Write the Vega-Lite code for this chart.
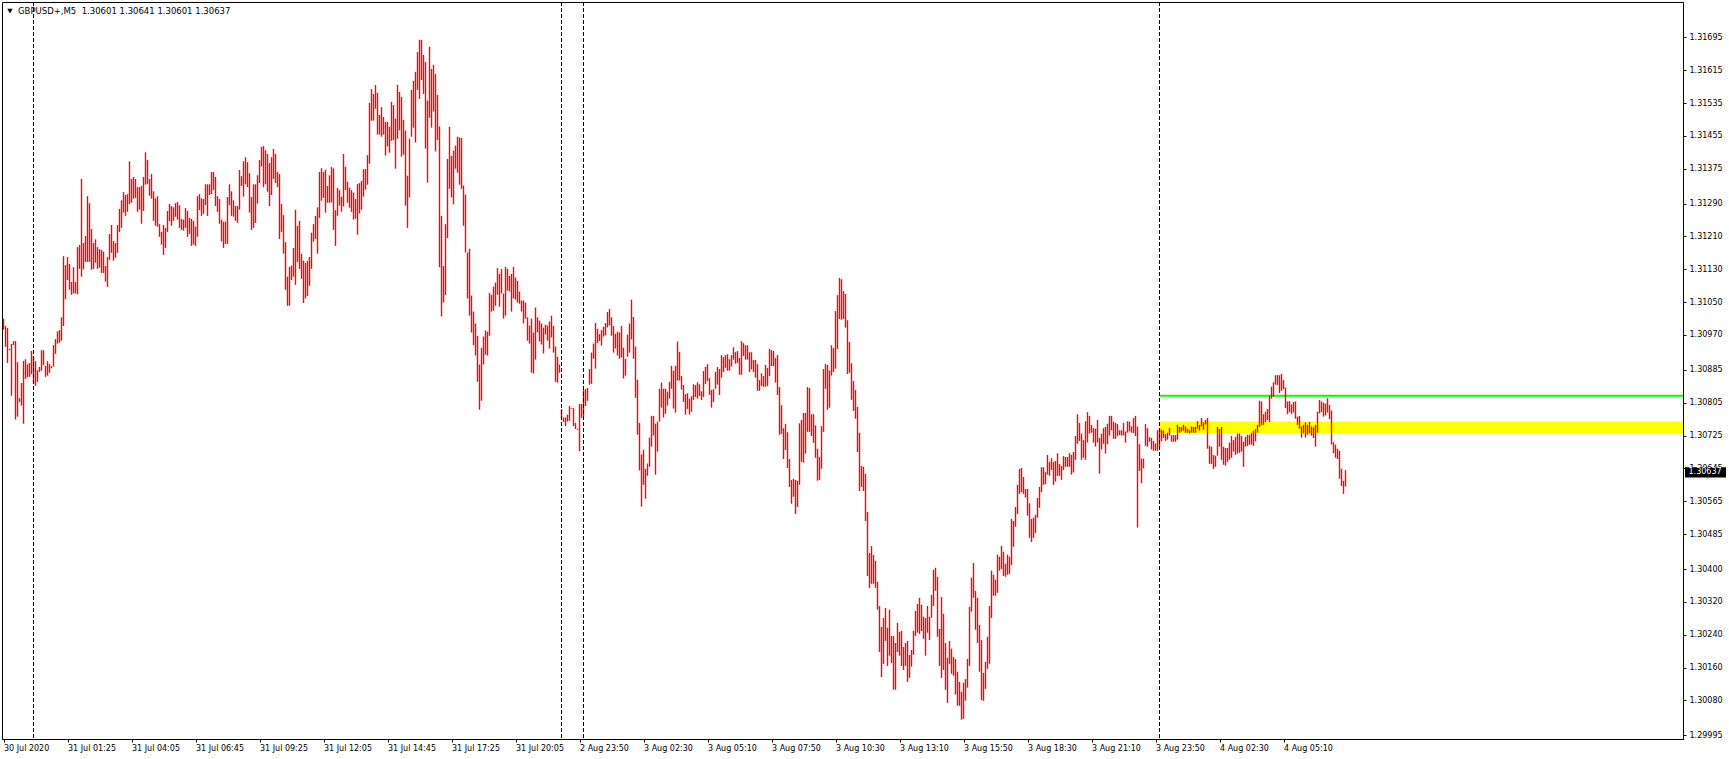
{
"$schema": "https://vega.github.io/schema/vega-lite/v6.json",
"width": 1681, "height": 737,
"autosize": {"type": "none"},
"padding": {"left": 2, "top": 2, "right": 46, "bottom": 20},
"background": "#ffffff",
"view": {"stroke": "#000000", "strokeWidth": 1},
"config": {"font": "DejaVu Sans", "axis": {"title": null, "grid": false, "labelOverlap": false, "labelSeparation": 0}},
"datasets": {
"bars": [
{"i":0,"h":1.31010,"l":1.30983},{"i":1,"h":1.30992,"l":1.30941},{"i":2,"h":1.30987,"l":1.30902},{"i":3,"h":1.30936,"l":1.30933},{"i":4,"h":1.30948,"l":1.30822},{"i":5,"h":1.30955,"l":1.30945},{"i":6,"h":1.30955,"l":1.30764},{"i":7,"h":1.30904,"l":1.30771},{"i":8,"h":1.30816,"l":1.30807},{"i":9,"h":1.30853,"l":1.30798},
{"i":10,"h":1.30907,"l":1.30754},{"i":11,"h":1.30911,"l":1.30863},{"i":12,"h":1.30899,"l":1.30867},{"i":13,"h":1.30902,"l":1.30868},{"i":14,"h":1.30931,"l":1.30875},{"i":15,"h":1.30917,"l":1.30852},{"i":16,"h":1.30906,"l":1.30846},{"i":17,"h":1.30884,"l":1.30856},{"i":18,"h":1.30892,"l":1.30880},{"i":19,"h":1.30933,"l":1.30883},
{"i":20,"h":1.30933,"l":1.30897},{"i":21,"h":1.30895,"l":1.30868},{"i":22,"h":1.30906,"l":1.30871},{"i":23,"h":1.30899,"l":1.30878},{"i":24,"h":1.30894,"l":1.30889},{"i":25,"h":1.30945,"l":1.30893},{"i":26,"h":1.30960,"l":1.30924},{"i":27,"h":1.30979,"l":1.30949},{"i":28,"h":1.30982,"l":1.30951},{"i":29,"h":1.31013,"l":1.30956},
{"i":30,"h":1.31162,"l":1.30992},{"i":31,"h":1.31140,"l":1.31057},{"i":32,"h":1.31160,"l":1.31104},{"i":33,"h":1.31143,"l":1.31080},{"i":34,"h":1.31099,"l":1.31068},{"i":35,"h":1.31135,"l":1.31071},{"i":36,"h":1.31099,"l":1.31071},{"i":37,"h":1.31184,"l":1.31069},{"i":38,"h":1.31189,"l":1.31131},{"i":39,"h":1.31350,"l":1.31112},
{"i":40,"h":1.31194,"l":1.31130},{"i":41,"h":1.31211,"l":1.31148},{"i":42,"h":1.31308,"l":1.31148},{"i":43,"h":1.31291,"l":1.31148},{"i":44,"h":1.31228,"l":1.31129},{"i":45,"h":1.31194,"l":1.31131},{"i":46,"h":1.31203,"l":1.31146},{"i":47,"h":1.31184,"l":1.31131},{"i":48,"h":1.31179,"l":1.31134},{"i":49,"h":1.31177,"l":1.31121},
{"i":50,"h":1.31173,"l":1.31121},{"i":51,"h":1.31138,"l":1.31100},{"i":52,"h":1.31160,"l":1.31087},{"i":53,"h":1.31216,"l":1.31153},{"i":54,"h":1.31238,"l":1.31170},{"i":55,"h":1.31199,"l":1.31151},{"i":56,"h":1.31194,"l":1.31158},{"i":57,"h":1.31238,"l":1.31170},{"i":58,"h":1.31277,"l":1.31221},{"i":59,"h":1.31298,"l":1.31231},
{"i":60,"h":1.31318,"l":1.31268},{"i":61,"h":1.31311,"l":1.31260},{"i":62,"h":1.31313,"l":1.31270},{"i":63,"h":1.31393,"l":1.31289},{"i":64,"h":1.31350,"l":1.31292},{"i":65,"h":1.31355,"l":1.31302},{"i":66,"h":1.31350,"l":1.31304},{"i":67,"h":1.31330,"l":1.31270},{"i":68,"h":1.31330,"l":1.31275},{"i":69,"h":1.31333,"l":1.31241},
{"i":70,"h":1.31355,"l":1.31272},{"i":71,"h":1.31415,"l":1.31336},{"i":72,"h":1.31396,"l":1.31338},{"i":73,"h":1.31350,"l":1.31309},{"i":74,"h":1.31362,"l":1.31302},{"i":75,"h":1.31320,"l":1.31248},{"i":76,"h":1.31303,"l":1.31236},{"i":77,"h":1.31308,"l":1.31234},{"i":78,"h":1.31240,"l":1.31209},{"i":79,"h":1.31221,"l":1.31190},
{"i":80,"h":1.31238,"l":1.31165},{"i":81,"h":1.31231,"l":1.31182},{"i":82,"h":1.31272,"l":1.31221},{"i":83,"h":1.31289,"l":1.31247},{"i":84,"h":1.31284,"l":1.31236},{"i":85,"h":1.31281,"l":1.31248},{"i":86,"h":1.31291,"l":1.31258},{"i":87,"h":1.31294,"l":1.31251},{"i":88,"h":1.31286,"l":1.31231},{"i":89,"h":1.31253,"l":1.31226},
{"i":90,"h":1.31251,"l":1.31224},{"i":91,"h":1.31279,"l":1.31231},{"i":92,"h":1.31272,"l":1.31209},{"i":93,"h":1.31255,"l":1.31216},{"i":94,"h":1.31253,"l":1.31187},{"i":95,"h":1.31248,"l":1.31190},{"i":96,"h":1.31234,"l":1.31187},{"i":97,"h":1.31308,"l":1.31209},{"i":98,"h":1.31313,"l":1.31274},{"i":99,"h":1.31303,"l":1.31260},
{"i":100,"h":1.31301,"l":1.31265},{"i":101,"h":1.31337,"l":1.31286},{"i":102,"h":1.31337,"l":1.31260},{"i":103,"h":1.31337,"l":1.31311},{"i":104,"h":1.31367,"l":1.31313},{"i":105,"h":1.31367,"l":1.31323},{"i":106,"h":1.31355,"l":1.31284},{"i":107,"h":1.31308,"l":1.31270},{"i":108,"h":1.31301,"l":1.31241},{"i":109,"h":1.31251,"l":1.31198},
{"i":110,"h":1.31246,"l":1.31182},{"i":111,"h":1.31246,"l":1.31192},{"i":112,"h":1.31306,"l":1.31192},{"i":113,"h":1.31337,"l":1.31286},{"i":114,"h":1.31320,"l":1.31260},{"i":115,"h":1.31298,"l":1.31258},{"i":116,"h":1.31284,"l":1.31248},{"i":117,"h":1.31284,"l":1.31243},{"i":118,"h":1.31372,"l":1.31275},{"i":119,"h":1.31357,"l":1.31333},
{"i":120,"h":1.31393,"l":1.31307},{"i":121,"h":1.31403,"l":1.31337},{"i":122,"h":1.31391,"l":1.31330},{"i":123,"h":1.31364,"l":1.31268},{"i":124,"h":1.31306,"l":1.31226},{"i":125,"h":1.31337,"l":1.31231},{"i":126,"h":1.31337,"l":1.31243},{"i":127,"h":1.31359,"l":1.31290},{"i":128,"h":1.31396,"l":1.31340},{"i":129,"h":1.31428,"l":1.31380},
{"i":130,"h":1.31430,"l":1.31330},{"i":131,"h":1.31420,"l":1.31337},{"i":132,"h":1.31411,"l":1.31319},{"i":133,"h":1.31389,"l":1.31284},{"i":134,"h":1.31403,"l":1.31311},{"i":135,"h":1.31423,"l":1.31350},{"i":136,"h":1.31411,"l":1.31340},{"i":137,"h":1.31367,"l":1.31330},{"i":138,"h":1.31362,"l":1.31204},{"i":139,"h":1.31289,"l":1.31221},
{"i":140,"h":1.31262,"l":1.31168},{"i":141,"h":1.31196,"l":1.31080},{"i":142,"h":1.31112,"l":1.31041},{"i":143,"h":1.31136,"l":1.31041},{"i":144,"h":1.31139,"l":1.31104},{"i":145,"h":1.31182,"l":1.31112},{"i":146,"h":1.31275,"l":1.31092},{"i":147,"h":1.31236,"l":1.31148},{"i":148,"h":1.31248,"l":1.31131},{"i":149,"h":1.31168,"l":1.31107},
{"i":150,"h":1.31151,"l":1.31048},{"i":151,"h":1.31146,"l":1.31059},{"i":152,"h":1.31151,"l":1.31065},{"i":153,"h":1.31160,"l":1.31090},{"i":154,"h":1.31219,"l":1.31131},{"i":155,"h":1.31240,"l":1.31197},{"i":156,"h":1.31260,"l":1.31204},{"i":157,"h":1.31281,"l":1.31168},{"i":158,"h":1.31367,"l":1.31255},{"i":159,"h":1.31376,"l":1.31297},
{"i":160,"h":1.31367,"l":1.31304},{"i":161,"h":1.31372,"l":1.31268},{"i":162,"h":1.31333,"l":1.31292},{"i":163,"h":1.31359,"l":1.31292},{"i":164,"h":1.31379,"l":1.31293},{"i":165,"h":1.31376,"l":1.31226},{"i":166,"h":1.31274,"l":1.31187},{"i":167,"h":1.31328,"l":1.31260},{"i":168,"h":1.31323,"l":1.31285},{"i":169,"h":1.31307,"l":1.31270},
{"i":170,"h":1.31411,"l":1.31283},{"i":171,"h":1.31380,"l":1.31323},{"i":172,"h":1.31343,"l":1.31292},{"i":173,"h":1.31329,"l":1.31280},{"i":174,"h":1.31323,"l":1.31270},{"i":175,"h":1.31317,"l":1.31251},{"i":176,"h":1.31301,"l":1.31253},{"i":177,"h":1.31338,"l":1.31214},{"i":178,"h":1.31340,"l":1.31266},{"i":179,"h":1.31345,"l":1.31275},
{"i":180,"h":1.31374,"l":1.31307},{"i":181,"h":1.31374,"l":1.31324},{"i":182,"h":1.31408,"l":1.31336},{"i":183,"h":1.31535,"l":1.31387},{"i":184,"h":1.31569,"l":1.31492},{"i":185,"h":1.31557,"l":1.31492},{"i":186,"h":1.31579,"l":1.31521},{"i":187,"h":1.31560,"l":1.31458},{"i":188,"h":1.31506,"l":1.31458},{"i":189,"h":1.31525,"l":1.31453},
{"i":190,"h":1.31501,"l":1.31458},{"i":191,"h":1.31489,"l":1.31407},{"i":192,"h":1.31489,"l":1.31429},{"i":193,"h":1.31477,"l":1.31414},{"i":194,"h":1.31538,"l":1.31443},{"i":195,"h":1.31530,"l":1.31445},{"i":196,"h":1.31497,"l":1.31375},{"i":197,"h":1.31579,"l":1.31448},{"i":198,"h":1.31562,"l":1.31468},{"i":199,"h":1.31550,"l":1.31404},
{"i":200,"h":1.31494,"l":1.31409},{"i":201,"h":1.31468,"l":1.31285},{"i":202,"h":1.31358,"l":1.31231},{"i":203,"h":1.31448,"l":1.31305},{"i":204,"h":1.31567,"l":1.31453},{"i":205,"h":1.31589,"l":1.31475},{"i":206,"h":1.31611,"l":1.31439},{"i":207,"h":1.31659,"l":1.31567},{"i":208,"h":1.31689,"l":1.31545},{"i":209,"h":1.31689,"l":1.31591},
{"i":210,"h":1.31652,"l":1.31557},{"i":211,"h":1.31635,"l":1.31424},{"i":212,"h":1.31541,"l":1.31341},{"i":213,"h":1.31672,"l":1.31499},{"i":214,"h":1.31618,"l":1.31475},{"i":215,"h":1.31628,"l":1.31514},{"i":216,"h":1.31606,"l":1.31417},{"i":217,"h":1.31555,"l":1.31445},{"i":218,"h":1.31478,"l":1.31135},{"i":219,"h":1.31260,"l":1.31015},
{"i":220,"h":1.31138,"l":1.31049},{"i":221,"h":1.31240,"l":1.31067},{"i":222,"h":1.31399,"l":1.31206},{"i":223,"h":1.31477,"l":1.31326},{"i":224,"h":1.31406,"l":1.31305},{"i":225,"h":1.31419,"l":1.31288},{"i":226,"h":1.31431,"l":1.31375},{"i":227,"h":1.31453,"l":1.31365},{"i":228,"h":1.31451,"l":1.31336},{"i":229,"h":1.31450,"l":1.31326},
{"i":230,"h":1.31334,"l":1.31236},{"i":231,"h":1.31312,"l":1.31171},{"i":232,"h":1.31171,"l":1.31059},{"i":233,"h":1.31180,"l":1.31017},{"i":234,"h":1.31066,"l":1.30976},{"i":235,"h":1.31027,"l":1.30945},{"i":236,"h":1.30998,"l":1.30920},{"i":237,"h":1.30968,"l":1.30856},{"i":238,"h":1.30898,"l":1.30788},{"i":239,"h":1.30939,"l":1.30810},
{"i":240,"h":1.30966,"l":1.30898},{"i":241,"h":1.30981,"l":1.30922},{"i":242,"h":1.30978,"l":1.30920},{"i":243,"h":1.31072,"l":1.30968},{"i":244,"h":1.31068,"l":1.31027},{"i":245,"h":1.31088,"l":1.31029},{"i":246,"h":1.31098,"l":1.31041},{"i":247,"h":1.31133,"l":1.31068},{"i":248,"h":1.31119,"l":1.31039},{"i":249,"h":1.31131,"l":1.31071},
{"i":250,"h":1.31071,"l":1.31010},{"i":251,"h":1.31136,"l":1.31017},{"i":252,"h":1.31131,"l":1.31078},{"i":253,"h":1.31114,"l":1.31076},{"i":254,"h":1.31119,"l":1.31027},{"i":255,"h":1.31136,"l":1.31059},{"i":256,"h":1.31110,"l":1.31056},{"i":257,"h":1.31102,"l":1.31049},{"i":258,"h":1.31076,"l":1.31046},{"i":259,"h":1.31054,"l":1.31027},
{"i":260,"h":1.31054,"l":1.30998},{"i":261,"h":1.31049,"l":1.31010},{"i":262,"h":1.31013,"l":1.30956},{"i":263,"h":1.30993,"l":1.30949},{"i":264,"h":1.31010,"l":1.30878},{"i":265,"h":1.30976,"l":1.30876},{"i":266,"h":1.31037,"l":1.30910},{"i":267,"h":1.31013,"l":1.30976},{"i":268,"h":1.31005,"l":1.30954},{"i":269,"h":1.30998,"l":1.30947},
{"i":270,"h":1.30988,"l":1.30925},{"i":271,"h":1.30995,"l":1.30971},{"i":272,"h":1.30993,"l":1.30956},{"i":273,"h":1.31003,"l":1.30937},{"i":274,"h":1.31017,"l":1.30964},{"i":275,"h":1.30992,"l":1.30927},{"i":276,"h":1.30942,"l":1.30856},{"i":277,"h":1.30917,"l":1.30854},{"i":278,"h":1.30898,"l":1.30878},{"i":279,"h":1.30789,"l":1.30765},
{"i":280,"h":1.30769,"l":1.30758},{"i":281,"h":1.30769,"l":1.30748},{"i":282,"h":1.30776,"l":1.30759},{"i":283,"h":1.30797,"l":1.30761},{"i":284,"h":1.30792,"l":1.30790},{"i":285,"h":1.30792,"l":1.30748},{"i":286,"h":1.30756,"l":1.30741},{"i":287,"h":1.30742,"l":1.30739},{"i":288,"h":1.30802,"l":1.30687},{"i":289,"h":1.30802,"l":1.30768},
{"i":290,"h":1.30836,"l":1.30771},{"i":291,"h":1.30838,"l":1.30797},{"i":292,"h":1.30841,"l":1.30810},{"i":293,"h":1.30887,"l":1.30849},{"i":294,"h":1.30927,"l":1.30851},{"i":295,"h":1.30949,"l":1.30912},{"i":296,"h":1.30999,"l":1.30888},{"i":297,"h":1.30985,"l":1.30950},{"i":298,"h":1.30972,"l":1.30955},{"i":299,"h":1.30982,"l":1.30944},
{"i":300,"h":1.30990,"l":1.30966},{"i":301,"h":1.30999,"l":1.30969},{"i":302,"h":1.31026,"l":1.30988},{"i":303,"h":1.31033,"l":1.30993},{"i":304,"h":1.31013,"l":1.30968},{"i":305,"h":1.30992,"l":1.30927},{"i":306,"h":1.30973,"l":1.30937},{"i":307,"h":1.30978,"l":1.30920},{"i":308,"h":1.30976,"l":1.30912},{"i":309,"h":1.30992,"l":1.30915},
{"i":310,"h":1.30939,"l":1.30864},{"i":311,"h":1.30912,"l":1.30871},{"i":312,"h":1.30971,"l":1.30917},{"i":313,"h":1.30998,"l":1.30927},{"i":314,"h":1.31056,"l":1.30959},{"i":315,"h":1.31014,"l":1.30912},{"i":316,"h":1.30942,"l":1.30817},{"i":317,"h":1.30861,"l":1.30727},{"i":318,"h":1.30756,"l":1.30640},{"i":319,"h":1.30679,"l":1.30552},
{"i":320,"h":1.30690,"l":1.30605},{"i":321,"h":1.30644,"l":1.30571},{"i":322,"h":1.30657,"l":1.30627},{"i":323,"h":1.30720,"l":1.30649},{"i":324,"h":1.30773,"l":1.30698},{"i":325,"h":1.30773,"l":1.30725},{"i":326,"h":1.30754,"l":1.30630},{"i":327,"h":1.30759,"l":1.30686},{"i":328,"h":1.30839,"l":1.30759},{"i":329,"h":1.30854,"l":1.30793},
{"i":330,"h":1.30839,"l":1.30769},{"i":331,"h":1.30839,"l":1.30778},{"i":332,"h":1.30832,"l":1.30798},{"i":333,"h":1.30856,"l":1.30815},{"i":334,"h":1.30895,"l":1.30839},{"i":335,"h":1.30883,"l":1.30791},{"i":336,"h":1.30895,"l":1.30781},{"i":337,"h":1.30954,"l":1.30859},{"i":338,"h":1.30929,"l":1.30859},{"i":339,"h":1.30870,"l":1.30837},
{"i":340,"h":1.30848,"l":1.30807},{"i":341,"h":1.30826,"l":1.30776},{"i":342,"h":1.30828,"l":1.30790},{"i":343,"h":1.30815,"l":1.30776},{"i":344,"h":1.30821,"l":1.30783},{"i":345,"h":1.30850,"l":1.30812},{"i":346,"h":1.30848,"l":1.30819},{"i":347,"h":1.30855,"l":1.30815},{"i":348,"h":1.30850,"l":1.30821},{"i":349,"h":1.30833,"l":1.30812},
{"i":350,"h":1.30882,"l":1.30819},{"i":351,"h":1.30892,"l":1.30851},{"i":352,"h":1.30899,"l":1.30858},{"i":353,"h":1.30865,"l":1.30824},{"i":354,"h":1.30836,"l":1.30793},{"i":355,"h":1.30838,"l":1.30807},{"i":356,"h":1.30880,"l":1.30839},{"i":357,"h":1.30892,"l":1.30849},{"i":358,"h":1.30887,"l":1.30824},{"i":359,"h":1.30921,"l":1.30866},
{"i":360,"h":1.30916,"l":1.30880},{"i":361,"h":1.30921,"l":1.30890},{"i":362,"h":1.30923,"l":1.30883},{"i":363,"h":1.30911,"l":1.30883},{"i":364,"h":1.30921,"l":1.30893},{"i":365,"h":1.30940,"l":1.30910},{"i":366,"h":1.30928,"l":1.30900},{"i":367,"h":1.30931,"l":1.30902},{"i":368,"h":1.30914,"l":1.30873},{"i":369,"h":1.30955,"l":1.30873},
{"i":370,"h":1.30950,"l":1.30919},{"i":371,"h":1.30945,"l":1.30910},{"i":372,"h":1.30945,"l":1.30910},{"i":373,"h":1.30928,"l":1.30880},{"i":374,"h":1.30928,"l":1.30886},{"i":375,"h":1.30909,"l":1.30880},{"i":376,"h":1.30909,"l":1.30866},{"i":377,"h":1.30899,"l":1.30834},{"i":378,"h":1.30860,"l":1.30834},{"i":379,"h":1.30877,"l":1.30846},
{"i":380,"h":1.30870,"l":1.30844},{"i":381,"h":1.30897,"l":1.30844},{"i":382,"h":1.30890,"l":1.30846},{"i":383,"h":1.30936,"l":1.30870},{"i":384,"h":1.30933,"l":1.30894},{"i":385,"h":1.30931,"l":1.30894},{"i":386,"h":1.30914,"l":1.30854},{"i":387,"h":1.30921,"l":1.30824},{"i":388,"h":1.30843,"l":1.30727},{"i":389,"h":1.30799,"l":1.30729},
{"i":390,"h":1.30743,"l":1.30668},{"i":391,"h":1.30753,"l":1.30690},{"i":392,"h":1.30733,"l":1.30646},{"i":393,"h":1.30668,"l":1.30600},{"i":394,"h":1.30617,"l":1.30559},{"i":395,"h":1.30620,"l":1.30576},{"i":396,"h":1.30617,"l":1.30534},{"i":397,"h":1.30615,"l":1.30551},{"i":398,"h":1.30755,"l":1.30605},{"i":399,"h":1.30763,"l":1.30661},
{"i":400,"h":1.30780,"l":1.30659},{"i":401,"h":1.30780,"l":1.30681},{"i":402,"h":1.30843,"l":1.30734},{"i":403,"h":1.30841,"l":1.30734},{"i":404,"h":1.30777,"l":1.30724},{"i":405,"h":1.30777,"l":1.30707},{"i":406,"h":1.30750,"l":1.30671},{"i":407,"h":1.30693,"l":1.30615},{"i":408,"h":1.30673,"l":1.30617},{"i":409,"h":1.30748,"l":1.30644},
{"i":410,"h":1.30887,"l":1.30734},{"i":411,"h":1.30899,"l":1.30839},{"i":412,"h":1.30897,"l":1.30788},{"i":413,"h":1.30884,"l":1.30793},{"i":414,"h":1.30945,"l":1.30871},{"i":415,"h":1.30938,"l":1.30880},{"i":416,"h":1.31028,"l":1.30888},{"i":417,"h":1.31067,"l":1.30936},{"i":418,"h":1.31109,"l":1.31009},{"i":419,"h":1.31106,"l":1.31007},
{"i":420,"h":1.31077,"l":1.31009},{"i":421,"h":1.31070,"l":1.30988},{"i":422,"h":1.31006,"l":1.30875},{"i":423,"h":1.30953,"l":1.30878},{"i":424,"h":1.30901,"l":1.30812},{"i":425,"h":1.30858,"l":1.30785},{"i":426,"h":1.30836,"l":1.30766},{"i":427,"h":1.30795,"l":1.30685},{"i":428,"h":1.30732,"l":1.30590},{"i":429,"h":1.30651,"l":1.30600},
{"i":430,"h":1.30649,"l":1.30590},{"i":431,"h":1.30632,"l":1.30517},{"i":432,"h":1.30539,"l":1.30383},{"i":433,"h":1.30439,"l":1.30354},{"i":434,"h":1.30456,"l":1.30364},{"i":435,"h":1.30434,"l":1.30364},{"i":436,"h":1.30420,"l":1.30354},{"i":437,"h":1.30369,"l":1.30301},{"i":438,"h":1.30310,"l":1.30198},{"i":439,"h":1.30259,"l":1.30137},
{"i":440,"h":1.30281,"l":1.30169},{"i":441,"h":1.30305,"l":1.30225},{"i":442,"h":1.30257,"l":1.30164},{"i":443,"h":1.30301,"l":1.30189},{"i":444,"h":1.30237,"l":1.30171},{"i":445,"h":1.30237,"l":1.30106},{"i":446,"h":1.30220,"l":1.30106},{"i":447,"h":1.30269,"l":1.30198},{"i":448,"h":1.30247,"l":1.30189},{"i":449,"h":1.30249,"l":1.30164},
{"i":450,"h":1.30210,"l":1.30154},{"i":451,"h":1.30220,"l":1.30164},{"i":452,"h":1.30225,"l":1.30125},{"i":453,"h":1.30191,"l":1.30135},{"i":454,"h":1.30203,"l":1.30162},{"i":455,"h":1.30249,"l":1.30191},{"i":456,"h":1.30298,"l":1.30237},{"i":457,"h":1.30315,"l":1.30245},{"i":458,"h":1.30330,"l":1.30242},{"i":459,"h":1.30313,"l":1.30249},
{"i":460,"h":1.30284,"l":1.30230},{"i":461,"h":1.30281,"l":1.30189},{"i":462,"h":1.30310,"l":1.30245},{"i":463,"h":1.30284,"l":1.30227},{"i":464,"h":1.30337,"l":1.30281},{"i":465,"h":1.30398,"l":1.30310},{"i":466,"h":1.30403,"l":1.30347},{"i":467,"h":1.30381,"l":1.30235},{"i":468,"h":1.30254,"l":1.30164},{"i":469,"h":1.30332,"l":1.30135},
{"i":470,"h":1.30291,"l":1.30154},{"i":471,"h":1.30220,"l":1.30106},{"i":472,"h":1.30184,"l":1.30074},{"i":473,"h":1.30225,"l":1.30169},{"i":474,"h":1.30206,"l":1.30145},{"i":475,"h":1.30186,"l":1.30140},{"i":476,"h":1.30181,"l":1.30094},{"i":477,"h":1.30150,"l":1.30067},{"i":478,"h":1.30125,"l":1.30067},{"i":479,"h":1.30101,"l":1.30033},
{"i":480,"h":1.30123,"l":1.30035},{"i":481,"h":1.30132,"l":1.30079},{"i":482,"h":1.30181,"l":1.30111},{"i":483,"h":1.30308,"l":1.30164},{"i":484,"h":1.30379,"l":1.30296},{"i":485,"h":1.30415,"l":1.30330},{"i":486,"h":1.30347,"l":1.30252},{"i":487,"h":1.30330,"l":1.30220},{"i":488,"h":1.30264,"l":1.30150},{"i":489,"h":1.30227,"l":1.30081},
{"i":490,"h":1.30147,"l":1.30079},{"i":491,"h":1.30174,"l":1.30108},{"i":492,"h":1.30235,"l":1.30157},{"i":493,"h":1.30310,"l":1.30169},{"i":494,"h":1.30396,"l":1.30281},{"i":495,"h":1.30386,"l":1.30335},{"i":496,"h":1.30374,"l":1.30335},{"i":497,"h":1.30435,"l":1.30342},{"i":498,"h":1.30430,"l":1.30396},{"i":499,"h":1.30456,"l":1.30400},
{"i":500,"h":1.30442,"l":1.30383},{"i":501,"h":1.30413,"l":1.30381},{"i":502,"h":1.30435,"l":1.30386},{"i":503,"h":1.30430,"l":1.30388},{"i":504,"h":1.30522,"l":1.30410},{"i":505,"h":1.30517,"l":1.30454},{"i":506,"h":1.30551,"l":1.30503},{"i":507,"h":1.30605,"l":1.30534},{"i":508,"h":1.30644,"l":1.30583},{"i":509,"h":1.30646,"l":1.30587},
{"i":510,"h":1.30624,"l":1.30583},{"i":511,"h":1.30595,"l":1.30574},{"i":512,"h":1.30595,"l":1.30530},{"i":513,"h":1.30560,"l":1.30476},{"i":514,"h":1.30522,"l":1.30466},{"i":515,"h":1.30525,"l":1.30476},{"i":516,"h":1.30532,"l":1.30488},{"i":517,"h":1.30573,"l":1.30525},{"i":518,"h":1.30600,"l":1.30549},{"i":519,"h":1.30648,"l":1.30587},
{"i":520,"h":1.30648,"l":1.30605},{"i":521,"h":1.30636,"l":1.30607},{"i":522,"h":1.30678,"l":1.30630},{"i":523,"h":1.30661,"l":1.30627},{"i":524,"h":1.30670,"l":1.30641},{"i":525,"h":1.30661,"l":1.30605},{"i":526,"h":1.30663,"l":1.30613},{"i":527,"h":1.30682,"l":1.30627},{"i":528,"h":1.30656,"l":1.30627},{"i":529,"h":1.30651,"l":1.30617},
{"i":530,"h":1.30675,"l":1.30641},{"i":531,"h":1.30673,"l":1.30649},{"i":532,"h":1.30673,"l":1.30649},{"i":533,"h":1.30682,"l":1.30649},{"i":534,"h":1.30678,"l":1.30630},{"i":535,"h":1.30685,"l":1.30635},{"i":536,"h":1.30724,"l":1.30666},{"i":537,"h":1.30777,"l":1.30705},{"i":538,"h":1.30756,"l":1.30712},{"i":539,"h":1.30730,"l":1.30666},
{"i":540,"h":1.30714,"l":1.30671},{"i":541,"h":1.30760,"l":1.30666},{"i":542,"h":1.30782,"l":1.30708},{"i":543,"h":1.30773,"l":1.30730},{"i":544,"h":1.30751,"l":1.30732},{"i":545,"h":1.30743,"l":1.30708},{"i":546,"h":1.30742,"l":1.30698},{"i":547,"h":1.30763,"l":1.30708},{"i":548,"h":1.30719,"l":1.30632},{"i":549,"h":1.30730,"l":1.30691},
{"i":550,"h":1.30743,"l":1.30705},{"i":551,"h":1.30746,"l":1.30681},{"i":552,"h":1.30754,"l":1.30704},{"i":553,"h":1.30773,"l":1.30725},{"i":554,"h":1.30773,"l":1.30738},{"i":555,"h":1.30759,"l":1.30717},{"i":556,"h":1.30756,"l":1.30717},{"i":557,"h":1.30753,"l":1.30724},{"i":558,"h":1.30738,"l":1.30726},{"i":559,"h":1.30738,"l":1.30725},
{"i":560,"h":1.30756,"l":1.30725},{"i":561,"h":1.30735,"l":1.30708},{"i":562,"h":1.30760,"l":1.30732},{"i":563,"h":1.30759,"l":1.30735},{"i":564,"h":1.30748,"l":1.30732},{"i":565,"h":1.30768,"l":1.30731},{"i":566,"h":1.30773,"l":1.30724},{"i":567,"h":1.30747,"l":1.30501},{"i":568,"h":1.30704,"l":1.30639},{"i":569,"h":1.30669,"l":1.30609},
{"i":570,"h":1.30669,"l":1.30645},{"i":571,"h":1.30753,"l":1.30700},{"i":572,"h":1.30743,"l":1.30698},{"i":573,"h":1.30721,"l":1.30710},{"i":574,"h":1.30719,"l":1.30691},{"i":575,"h":1.30712,"l":1.30688},{"i":576,"h":1.30706,"l":1.30688},{"i":577,"h":1.30738,"l":1.30688},{"i":578,"h":1.30743,"l":1.30696},{"i":579,"h":1.30739,"l":1.30711},
{"i":580,"h":1.30737,"l":1.30719},{"i":581,"h":1.30729,"l":1.30712},{"i":582,"h":1.30732,"l":1.30715},{"i":583,"h":1.30743,"l":1.30725},{"i":584,"h":1.30726,"l":1.30710},{"i":585,"h":1.30726,"l":1.30710},{"i":586,"h":1.30726,"l":1.30710},{"i":587,"h":1.30751,"l":1.30715},{"i":588,"h":1.30746,"l":1.30732},{"i":589,"h":1.30746,"l":1.30735},
{"i":590,"h":1.30751,"l":1.30737},{"i":591,"h":1.30747,"l":1.30732},{"i":592,"h":1.30742,"l":1.30732},{"i":593,"h":1.30738,"l":1.30730},{"i":594,"h":1.30747,"l":1.30732},{"i":595,"h":1.30746,"l":1.30732},{"i":596,"h":1.30746,"l":1.30732},{"i":597,"h":1.30760,"l":1.30742},{"i":598,"h":1.30751,"l":1.30737},{"i":599,"h":1.30768,"l":1.30747},
{"i":600,"h":1.30757,"l":1.30739},{"i":601,"h":1.30763,"l":1.30752},{"i":602,"h":1.30768,"l":1.30693},{"i":603,"h":1.30700,"l":1.30656},{"i":604,"h":1.30698,"l":1.30656},{"i":605,"h":1.30678,"l":1.30644},{"i":606,"h":1.30676,"l":1.30649},{"i":607,"h":1.30746,"l":1.30676},{"i":608,"h":1.30741,"l":1.30698},{"i":609,"h":1.30746,"l":1.30666},
{"i":610,"h":1.30698,"l":1.30654},{"i":611,"h":1.30695,"l":1.30652},{"i":612,"h":1.30695,"l":1.30661},{"i":613,"h":1.30708,"l":1.30666},{"i":614,"h":1.30724,"l":1.30671},{"i":615,"h":1.30714,"l":1.30686},{"i":616,"h":1.30722,"l":1.30678},{"i":617,"h":1.30730,"l":1.30681},{"i":618,"h":1.30730,"l":1.30683},{"i":619,"h":1.30724,"l":1.30686},
{"i":620,"h":1.30710,"l":1.30649},{"i":621,"h":1.30722,"l":1.30698},{"i":622,"h":1.30727,"l":1.30700},{"i":623,"h":1.30727,"l":1.30703},{"i":624,"h":1.30732,"l":1.30703},{"i":625,"h":1.30737,"l":1.30700},{"i":626,"h":1.30741,"l":1.30711},{"i":627,"h":1.30751,"l":1.30732},{"i":628,"h":1.30810,"l":1.30746},{"i":629,"h":1.30808,"l":1.30750},
{"i":630,"h":1.30777,"l":1.30751},{"i":631,"h":1.30783,"l":1.30758},{"i":632,"h":1.30790,"l":1.30763},{"i":633,"h":1.30822,"l":1.30758},{"i":634,"h":1.30844,"l":1.30815},{"i":635,"h":1.30855,"l":1.30820},{"i":636,"h":1.30872,"l":1.30849},{"i":637,"h":1.30872,"l":1.30848},{"i":638,"h":1.30872,"l":1.30829},{"i":639,"h":1.30875,"l":1.30834},
{"i":640,"h":1.30860,"l":1.30838},{"i":641,"h":1.30842,"l":1.30792},{"i":642,"h":1.30808,"l":1.30777},{"i":643,"h":1.30809,"l":1.30782},{"i":644,"h":1.30801,"l":1.30778},{"i":645,"h":1.30807,"l":1.30781},{"i":646,"h":1.30808,"l":1.30766},{"i":647,"h":1.30771,"l":1.30751},{"i":648,"h":1.30773,"l":1.30742},{"i":649,"h":1.30747,"l":1.30720},
{"i":650,"h":1.30751,"l":1.30730},{"i":651,"h":1.30757,"l":1.30720},{"i":652,"h":1.30751,"l":1.30727},{"i":653,"h":1.30758,"l":1.30730},{"i":654,"h":1.30747,"l":1.30725},{"i":655,"h":1.30745,"l":1.30719},{"i":656,"h":1.30751,"l":1.30698},{"i":657,"h":1.30783,"l":1.30732},{"i":658,"h":1.30812,"l":1.30779},{"i":659,"h":1.30808,"l":1.30782},
{"i":660,"h":1.30805,"l":1.30771},{"i":661,"h":1.30803,"l":1.30774},{"i":662,"h":1.30816,"l":1.30781},{"i":663,"h":1.30800,"l":1.30765},{"i":664,"h":1.30786,"l":1.30703},{"i":665,"h":1.30709,"l":1.30682},{"i":666,"h":1.30703,"l":1.30671},{"i":667,"h":1.30693,"l":1.30668},{"i":668,"h":1.30688,"l":1.30620},{"i":669,"h":1.30644,"l":1.30602},
{"i":670,"h":1.30615,"l":1.30583},{"i":671,"h":1.30641,"l":1.30601}
]
},
"encoding": {
"x": {"field": "i", "type": "quantitative", "scale": {"domain": [-0.75, 839.75], "nice": false, "zero": false},
"axis": {"orient": "bottom", "values": [0,32,64,96,128,160,192,224,256,288,320,352,384,416,448,480,512,544,576,608,640],
"labelExpr": "['30 Jul 2020','31 Jul 01:25','31 Jul 04:05','31 Jul 06:45','31 Jul 09:25','31 Jul 12:05','31 Jul 14:45','31 Jul 17:25','31 Jul 20:05','2 Aug 23:50','3 Aug 02:30','3 Aug 05:10','3 Aug 07:50','3 Aug 10:30','3 Aug 13:10','3 Aug 15:50','3 Aug 18:30','3 Aug 21:10','3 Aug 23:50','4 Aug 02:30','4 Aug 05:10'][round(datum.value/32)]",
"grid": false, "domain": true, "domainColor": "#000000", "ticks": true, "tickColor": "#000000", "tickSize": 3,
"labelAlign": "left", "labelBaseline": "top", "labelPadding": 2, "labelFont": "DejaVu Sans", "labelFontSize": 8, "labelColor": "#000000",
"labelOverlap": false, "labelBound": false, "labelFlush": false, "title": null}},
"y": {"field": "h", "type": "quantitative", "scale": {"domain": [1.29986, 1.31781], "nice": false, "zero": false},
"axis": {"orient": "right", "values": [1.29995,1.30080,1.30160,1.30240,1.30320,1.30400,1.30485,1.30565,1.30645,1.30725,1.30805,1.30885,1.30970,1.31050,1.31130,1.31210,1.31290,1.31375,1.31455,1.31535,1.31615,1.31695],
"format": ".5f", "grid": false, "domain": true, "domainColor": "#000000", "ticks": true, "tickColor": "#000000", "tickSize": 3,
"labelPadding": 3, "labelAlign": "left", "labelBaseline": "middle", "labelFont": "DejaVu Sans", "labelFontSize": 8, "labelColor": "#000000",
"labelOverlap": false, "labelBound": false, "labelFlush": false, "title": null}}
},
"layer": [
{
"data": {"values": [{"i": 578, "i2": 839.75, "h": 1.30759, "l": 1.30731}]},
"mark": {"type": "rect", "color": "#ffff00"},
"encoding": {"x2": {"field": "i2"}, "y2": {"field": "l"}}
},
{
"data": {"values": [{"i": 578, "i2": 839.75, "h": 1.30822}]},
"mark": {"type": "rule", "color": "#00ff00", "strokeWidth": 2},
"encoding": {"x2": {"field": "i2"}}
},
{
"data": {"name": "bars"},
"mark": {"type": "rule", "color": "#ff0000", "strokeWidth": 1.4},
"encoding": {"y2": {"field": "l"}}
},
{
"data": {"values": [{"i": 15, "h": 1.31781, "l": 1.29986}, {"i": 279, "h": 1.31781, "l": 1.29986}, {"i": 290, "h": 1.31781, "l": 1.29986}, {"i": 578, "h": 1.31781, "l": 1.29986}]},
"mark": {"type": "rule", "color": "#000000", "strokeWidth": 1, "strokeDash": [4, 2]},
"encoding": {"y2": {"field": "l"}}
},
{
"data": {"values": [{"i": 840.75, "i2": 861.25, "h": 1.30648, "l": 1.30623}]},
"mark": {"type": "rect", "color": "#000000", "clip": false},
"encoding": {"x2": {"field": "i2"}, "y2": {"field": "l"}}
},
{
"data": {"values": [{"i": 842.5, "h": 1.30637, "t": "1.30637"}]},
"mark": {"type": "text", "color": "#ffffff", "align": "left", "baseline": "middle", "font": "DejaVu Sans", "fontSize": 8, "clip": false},
"encoding": {"text": {"field": "t"}}
},
{
"data": {"values": [{"i": 3.25, "h": 1.31759}]},
"mark": {"type": "point", "shape": "triangle-down", "filled": true, "color": "#000000", "size": 30, "opacity": 1},
"encoding": {}
},
{
"data": {"values": [{"i": 7.25, "h": 1.31759, "t": "GBPUSD+,M5\u00a0 1.30601 1.30641 1.30601 1.30637"}]},
"mark": {"type": "text", "color": "#000000", "align": "left", "baseline": "middle", "font": "DejaVu Sans", "fontSize": 8.5},
"encoding": {"text": {"field": "t"}}
}
]
}
